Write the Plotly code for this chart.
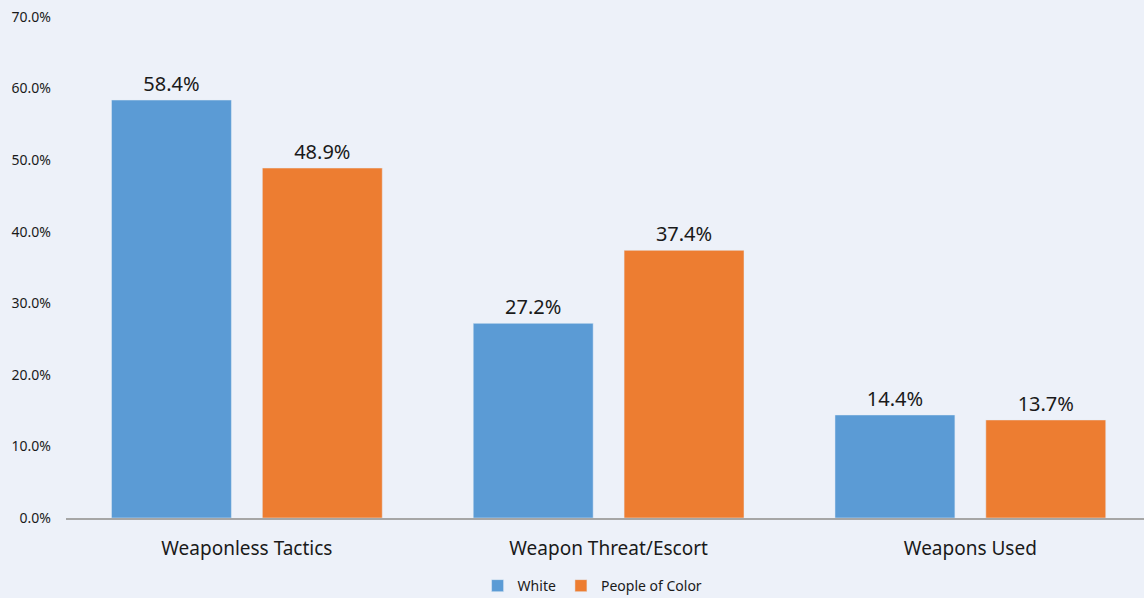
import plotly.graph_objects as go

categories = ["Weaponless Tactics", "Weapon Threat/Escort", "Weapons Used"]
white = [58.4, 27.2, 14.4]
people_of_color = [48.9, 37.4, 13.7]
y_ticks = [0, 10, 20, 30, 40, 50, 60, 70]

FONT = "Noto Sans, Open Sans, sans-serif"

fig = go.Figure()
fig.add_bar(name="White", x=categories, y=white, marker_color="#5B9BD5",
            text=[f"{v:.1f}%" for v in white], textposition="outside",
            textfont=dict(size=20, color="#1a1a1a"), cliponaxis=False)
fig.add_bar(name="People of Color", x=categories, y=people_of_color, marker_color="#ED7D31",
            text=[f"{v:.1f}%" for v in people_of_color], textposition="outside",
            textfont=dict(size=20, color="#1a1a1a"), cliponaxis=False)

fig.update_layout(
    width=1144, height=598,
    margin=dict(l=66, r=0, t=17, b=80, autoexpand=False),
    paper_bgcolor="#EDF1F9", plot_bgcolor="#EDF1F9",
    font=dict(family=FONT, color="#1a1a1a"),
    barmode="group", bargap=0.166, bargroupgap=0.205,
    showlegend=True,
    legend=dict(orientation="h", xref="container", x=0.518, xanchor="center",
                yref="container", y=0.02, yanchor="middle",
                font=dict(size=14), itemwidth=30, bgcolor="rgba(0,0,0,0)"),
)
fig.update_xaxes(range=[-0.5, 2.48], showline=True, linecolor="#A6A6A6", linewidth=2,
                 ticks="", tickfont=dict(size=19), showgrid=False, ticklabelstandoff=12)
fig.update_yaxes(range=[0, 70], tickvals=y_ticks, ticktext=[f"{v:.1f}%" for v in y_ticks],
                 tickfont=dict(size=14), showgrid=False, zeroline=False,
                 showline=False, ticklabelstandoff=14)

fig.write_html("out.html", config={"displayModeBar": False},
               post_script="document.body.style.margin='0';document.body.style.padding='0';document.body.style.background='#EDF1F9';")
